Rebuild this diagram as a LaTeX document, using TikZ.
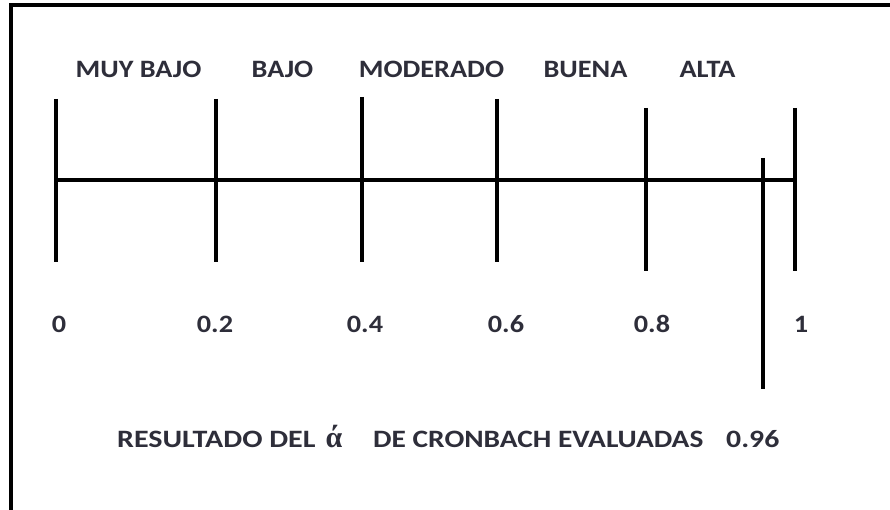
\documentclass[tikz,border=0pt]{standalone}
\usepackage{fontspec}
\setmainfont{Carlito}[FakeStretch=1.13]
\newfontfamily\fonta{Carlito}[FakeStretch=1.2]
\newfontfamily\fontb{Carlito}[FakeStretch=1.175]
\newfontfamily\fontc{Carlito}[FakeStretch=1.19]
\newfontfamily\alphafont{Liberation Serif}
\definecolor{txt}{HTML}{2E2E3A}
\begin{document}
\begin{tikzpicture}[x=1pt,y=-1pt,
  tick/.style={line width=4.2pt},
  lbl/.style={inner sep=0pt,anchor=base,text=txt,font=\fontsize{25}{28}\selectfont\bfseries},
  lblw/.style={lbl,anchor=base west}]
\useasboundingbox (0,0) rectangle (890,510);
\fill[white] (0,0) rectangle (890,510);
% frame
\draw[line width=4pt] (10.5,512) -- (10.5,5.5) -- (892,5.5);
% axis
\coordinate (t0a) at (56,99);   \coordinate (t0b) at (56,262);
\coordinate (t2a) at (216,99);  \coordinate (t2b) at (216,262);
\coordinate (t4a) at (362,97);  \coordinate (t4b) at (362,262);
\coordinate (t6a) at (497,99);  \coordinate (t6b) at (497,262);
\coordinate (t8a) at (646,108); \coordinate (t8b) at (646,271);
\coordinate (t10a) at (795,108); \coordinate (t10b) at (795,271);
\coordinate (ha) at (56,180); \coordinate (hb) at (795,180);
\coordinate (ma) at (763,158); \coordinate (mb) at (763,389);
\draw[line width=4pt] (ha) -- (hb);
\foreach \t in {t0,t2,t4,t6,t8,t10} \draw[tick] (\t a) -- (\t b);
\draw[tick] (ma) -- (mb);
% top labels
\node[lbl] (l1) at (138.5,78) {MUY BAJO};
\node[lbl] (l2) at (282.5,78) {BAJO};
\node[lbl] (l3) at (431.5,78) {MODERADO};
\node[lbl] (l4) at (585.5,78) {BUENA};
\node[lbl] (l5) at (707.5,78) {ALTA};
% numbers
\node[lbl] (n0) at (59,332) {0};
\node[lbl] (n2) at (215,332) {0.2};
\node[lbl] (n4) at (365,332) {0.4};
\node[lbl] (n6) at (506,332) {0.6};
\node[lbl] (n8) at (652,332) {0.8};
\node[lbl] (n10) at (801,332) {1};
% bottom text
\node[lblw,font=\fontsize{25}{28}\fonta\bfseries] (r1) at (117,447) {RESULTADO DEL};
\node[lbl,font=\fontsize{30}{33}\alphafont\bfseries] (ra) at (334,447) {ά};
\node[lblw,font=\fontsize{25}{28}\fontb\bfseries] (r2) at (373,447) {DE CRONBACH EVALUADAS};
\node[lblw,font=\fontsize{25}{28}\fontc\bfseries] (r3) at (726,447) {0.96};
\end{tikzpicture}
\end{document}
